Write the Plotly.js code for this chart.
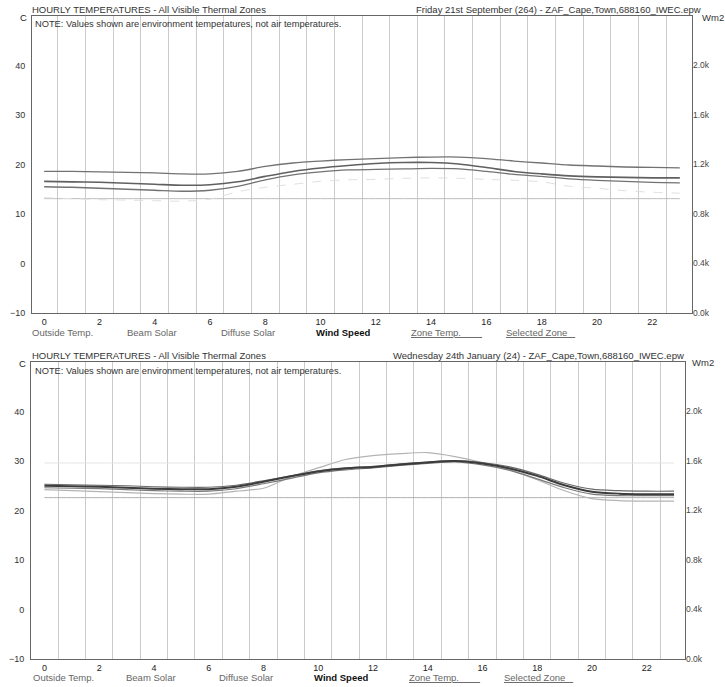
<!DOCTYPE html>
<html>
<head>
<meta charset="utf-8">
<script src="https://cdn.plot.ly/plotly-3.0.1.min.js"></script>
<style>
  html, body { margin: 0; padding: 0; background: #ffffff; }
  #chart { width: 725px; height: 687px; }
</style>
</head>
<body>
<div id="chart"></div>
<script>
// ---------------- DATA ----------------
const hours = [0,1,2,3,4,5,6,7,8,9,10,11,12,13,14,15,16,17,18,19,20,21,22,23];
const hourTickVals = [0,2,4,6,8,10,12,14,16,18,20,22];
const hourGridVals = [0.5,1.5,2.5,3.5,4.5,5.5,6.5,7.5,8.5,9.5,10.5,11.5,12.5,13.5,14.5,15.5,16.5,17.5,18.5,19.5,20.5,21.5,22.5];
const tempTickVals = [-10,0,10,20,30,40];
const solarTickVals = [0,0.4,0.8,1.2,1.6,2.0];
const solarTickText = ['0.0k','0.4k','0.8k','1.2k','1.6k','2.0k'];
const legendLabels = ['Outside Temp.','Beam Solar','Diffuse Solar','<b>Wind Speed</b>','<u>Zone Temp.\u00a0\u00a0\u00a0\u00a0\u00a0\u00a0\u00a0\u00a0</u>','<u>Selected Zone\u00a0\u00a0\u00a0</u>'];

const topTitle = 'HOURLY TEMPERATURES - All Visible Thermal Zones';
const noteText = 'NOTE: Values shown are environment temperatures, not air temperatures.';
const topDate = 'Friday 21st September (264) - ZAF_Cape,Town,688160_IWEC.epw';
const bottomDate = 'Wednesday 24th January (24) - ZAF_Cape,Town,688160_IWEC.epw';

// Friday 21st September
const sepZoneUpper = [18.6,18.6,18.5,18.4,18.3,18.1,18.1,18.6,19.6,20.3,20.7,21.0,21.2,21.4,21.5,21.5,21.2,20.7,20.3,19.9,19.7,19.5,19.4,19.3];
const sepZoneMiddle = [16.6,16.5,16.4,16.2,16.0,15.8,15.9,16.5,17.6,18.6,19.3,19.8,20.2,20.4,20.4,20.1,19.4,18.6,18.1,17.7,17.5,17.4,17.3,17.3];
const sepZoneLower = [15.5,15.4,15.2,15.0,14.8,14.6,14.8,15.6,16.9,17.9,18.5,18.9,19.0,19.1,19.2,19.1,18.6,18.0,17.6,17.1,16.8,16.6,16.4,16.3];
const sepFlat = [13.1,13.1,13.1,13.1,13.1,13.1,13.1,13.1,13.1,13.1,13.1,13.1,13.1,13.1,13.1,13.1,13.1,13.1,13.1,13.1,13.1,13.1,13.1,13.1];
const sepOutside = [13.3,13.1,12.9,12.8,12.7,12.6,13.0,14.5,15.4,16.0,16.6,16.9,17.0,17.2,17.3,17.2,17.0,16.8,16.5,15.6,15.2,14.7,14.4,14.2];

// Wednesday 24th January
const janZoneMain = [25.0,24.9,24.8,24.6,24.4,24.3,24.3,24.8,25.8,26.9,27.9,28.5,28.8,29.3,29.7,30.0,29.5,28.5,27.0,25.1,23.8,23.4,23.3,23.3];
const janZoneUpper = [25.3,25.2,25.1,25.0,24.8,24.7,24.7,25.1,26.0,27.0,28.0,28.6,28.9,29.4,29.8,30.1,29.7,28.8,27.3,25.5,24.3,24.0,23.9,23.9];
const janZoneLower = [24.6,24.5,24.4,24.2,24.0,23.9,23.9,24.4,25.4,26.5,27.6,28.2,28.6,29.1,29.5,29.8,29.2,28.1,26.4,24.6,23.3,23.0,23.0,23.0];
const janOutside = [24.2,24.0,23.8,23.6,23.4,23.3,23.3,23.9,24.5,26.8,28.6,30.3,31.1,31.5,31.7,30.9,29.7,28.2,26.2,24.0,22.4,22.0,21.9,21.9];
const janFlatLow = [22.6,22.6,22.6,22.6,22.6,22.6,22.6,22.6,22.6,22.6,22.6,22.6,22.6,22.6,22.6,22.6,22.6,22.6,22.6,22.6,22.6,22.6,22.6,22.6];
const janFlatHigh = [29.6,29.6,29.6,29.6,29.6,29.6,29.6,29.6,29.6,29.6,29.6,29.6,29.6,29.6,29.6,29.6,29.6,29.6,29.6,29.6,29.6,29.6,29.6,29.6];

// Solar series (Wm2, right axis) are not legible in the scan: left empty
const sepSolar = [];
const janSolar = [];

// ---------------- TRACES ----------------
function line(y, xa, ya, color, width, dash) {
  return {
    x: hours, y: y, xaxis: xa, yaxis: ya, type: 'scatter', mode: 'lines',
    line: { color: color, width: width, shape: 'spline', smoothing: 0.8, dash: dash || 'solid' },
    hoverinfo: 'skip', showlegend: false
  };
}

const data = [
  { x: [], y: sepSolar, xaxis: 'x', yaxis: 'y2', type: 'scatter', mode: 'lines', showlegend: false, hoverinfo: 'skip' },
  { x: [], y: janSolar, xaxis: 'x2', yaxis: 'y4', type: 'scatter', mode: 'lines', showlegend: false, hoverinfo: 'skip' },

  line(sepFlat, 'x', 'y', '#bdbdbd', 1),
  line(sepOutside, 'x', 'y', '#e0e0e0', 1, 'dash'),
  line(sepZoneUpper, 'x', 'y', '#727272', 1.3),
  line(sepZoneMiddle, 'x', 'y', '#606060', 1.6),
  line(sepZoneLower, 'x', 'y', '#727272', 1.3),

  line(janFlatHigh, 'x2', 'y3', '#e4e4e4', 1),
  line(janFlatLow, 'x2', 'y3', '#b0b0b0', 1),
  line(janOutside, 'x2', 'y3', '#b4b4b4', 1.2),
  line(janZoneLower, 'x2', 'y3', '#7a7a7a', 1.2),
  line(janZoneUpper, 'x2', 'y3', '#6a6a6a', 1.2),
  line(janZoneMain, 'x2', 'y3', '#3c3c3c', 2)
];

// ---------------- LAYOUT ----------------
const W = 725, H = 687;
const px = v => v / W;
const py = v => 1 - v / H;
const fam = 'Liberation Sans, Arial, sans-serif';

function xAxis(domain, anchor, range) {
  return {
    domain: domain, anchor: anchor, range: range,
    tickmode: 'array', tickvals: hourTickVals, ticks: '',
    showgrid: false, zeroline: false,
    showline: true, mirror: true, linecolor: '#666', linewidth: 1,
    tickfont: { family: fam, size: 9, color: '#222' },
    minor: { tickmode: 'array', tickvals: hourGridVals, showgrid: true, gridcolor: '#cbcbcb', gridwidth: 1, ticks: '' },
    fixedrange: true
  };
}
function yTemp(domain, anchor) {
  return {
    domain: domain, anchor: anchor, range: [-10, 50],
    tickmode: 'array', tickvals: tempTickVals, ticks: '',
    ticklabelstandoff: 4,
    showgrid: false, zeroline: false,
    showline: true, mirror: true, linecolor: '#666', linewidth: 1,
    tickfont: { family: fam, size: 9, color: '#333' },
    fixedrange: true
  };
}
function ySolar(overlay, anchor) {
  return {
    overlaying: overlay, anchor: anchor, side: 'right', range: [0, 2.4],
    tickmode: 'array', tickvals: solarTickVals, ticktext: solarTickText, ticks: '',
    showgrid: false, zeroline: false, showline: false,
    tickfont: { family: fam, size: 8.5, color: '#444' },
    fixedrange: true
  };
}

const annotations = [];
function ann(text, x, y, xanchor, size, color) {
  annotations.push({
    text: text, x: x, y: y, xref: 'paper', yref: 'paper',
    xanchor: xanchor, yanchor: 'middle', showarrow: false,
    font: { family: fam, size: size, color: color }
  });
}

// top chart labels
ann(topTitle, px(30), py(10), 'left', 9.5, '#333');
ann(topDate, px(703), py(10), 'right', 9.5, '#333');
ann('C', px(23), py(17), 'center', 9.5, '#222');
ann('Wm2', px(713), py(18), 'center', 9.5, '#333');
ann(noteText, px(33), py(24), 'left', 9.3, '#333');
const topLegendX = [30, 125, 219, 314, 409, 504];
legendLabels.forEach((t, i) => ann(t, px(topLegendX[i]), py(332), 'left', 9.5, i === 3 ? '#111' : '#666'));

// bottom chart labels
ann(topTitle, px(30), py(355), 'left', 9.5, '#333');
ann(bottomDate, px(686), py(355), 'right', 9.5, '#333');
ann('C', px(22), py(363), 'center', 9.5, '#222');
ann('Wm2', px(703), py(362), 'center', 9.5, '#333');
ann(noteText, px(33), py(371), 'left', 9.3, '#333');
const botLegendX = [31, 124, 217, 312, 407, 502];
legendLabels.forEach((t, i) => ann(t, px(botLegendX[i]), py(677), 'left', 9.5, i === 3 ? '#111' : '#666'));

const layout = {
  width: W, height: H,
  margin: { l: 0, r: 0, t: 0, b: 0, pad: 0 },
  paper_bgcolor: '#ffffff', plot_bgcolor: '#ffffff',
  font: { family: fam, size: 9, color: '#333' },
  showlegend: false,
  xaxis: xAxis([px(32), px(692)], 'y', [-0.44, 23.44]),
  yaxis: yTemp([py(313), py(16)], 'x'),
  yaxis2: ySolar('y', 'x'),
  xaxis2: xAxis([px(31), px(685)], 'y3', [-0.49, 23.4]),
  yaxis3: yTemp([py(659), py(362)], 'x2'),
  yaxis4: ySolar('y3', 'x2'),
  annotations: annotations
};

Plotly.newPlot('chart', data, layout, { staticPlot: true, displayModeBar: false });
</script>
</body>
</html>
